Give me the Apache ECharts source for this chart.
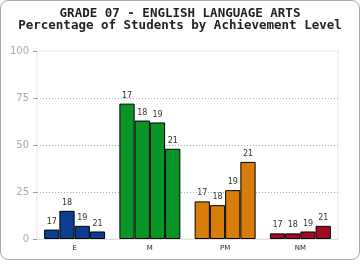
<!DOCTYPE html>
<html><head><meta charset="utf-8">
<script src="https://cdn.jsdelivr.net/npm/echarts@6/dist/echarts.min.js"></script>
<style>
html,body{margin:0;padding:0;background:#fff;}
#box{position:absolute;left:0;top:0;width:358px;height:258px;border:1px solid #aaa;border-radius:8px;box-sizing:content-box;}
#c{position:absolute;left:0;top:0;width:360px;height:260px;}
</style></head><body>
<div id="box"></div>
<div id="c"></div>
<script>
var categories = ['E','M','PM','NM'];
var seriesNames = ['17','18','19','21'];
var s17 = [5,72,20,3];
var s18 = [15,63,18,3];
var s19 = [7,62,26,4];
var s21 = [4,48,41,7];
var catColors = ['#0b3f8e','#0a9626','#d77d08','#a30a22'];
var yTicks = [0,25,50,75,100];

var all = [s17,s18,s19,s21];
var chart = echarts.init(document.getElementById('c'), null, {renderer:'canvas'});
var series = all.map(function(arr, si){
  return {
    name: seriesNames[si], type:'bar', barGap:'0%', barCategoryGap:'19%',
    data: arr.map(function(v,ci){ return {value:v, itemStyle:{color:catColors[ci]}}; }),
    itemStyle:{borderColor:'#000',borderWidth:1},
    label:{show:true, position:'top', distance:4, formatter:seriesNames[si],
      fontFamily:'DejaVu Sans', fontSize:8, color:'#333'},
    emphasis:{disabled:true}, animation:false
  };
});
chart.setOption({
  animation:false,
  title:{text:'GRADE 07 - ENGLISH LANGUAGE ARTS\nPercentage of Students by Achievement Level',
    left:'center', top:3,
    textStyle:{fontFamily:'DejaVu Sans Mono', fontWeight:'bold', fontSize:12.5, lineHeight:12, color:'#222'}},
  grid:{left:37, right:22, top:51, bottom:21, show:true, borderColor:'#e8e8e8', borderWidth:1},
  xAxis:{type:'category', data:categories,
    axisLine:{lineStyle:{color:'#e0e0e0'}}, axisTick:{show:false},
    axisLabel:{fontFamily:'DejaVu Sans', fontSize:7, color:'#222', margin:6}},
  yAxis:{type:'value', min:0, max:100, interval:25,
    axisLine:{show:false},
    axisTick:{show:true, length:4, lineStyle:{color:'#999'}},
    axisLabel:{fontFamily:'DejaVu Sans', fontSize:10, color:'#aaa', margin:8,
      formatter:function(v){ return yTicks.indexOf(v)>=0 ? String(v) : ''; }},
    splitLine:{showMaxLine:false, showMinLine:false, lineStyle:{color:'#aaa', type:[1,2], width:1}}},
  series: series
});
</script></body></html>
